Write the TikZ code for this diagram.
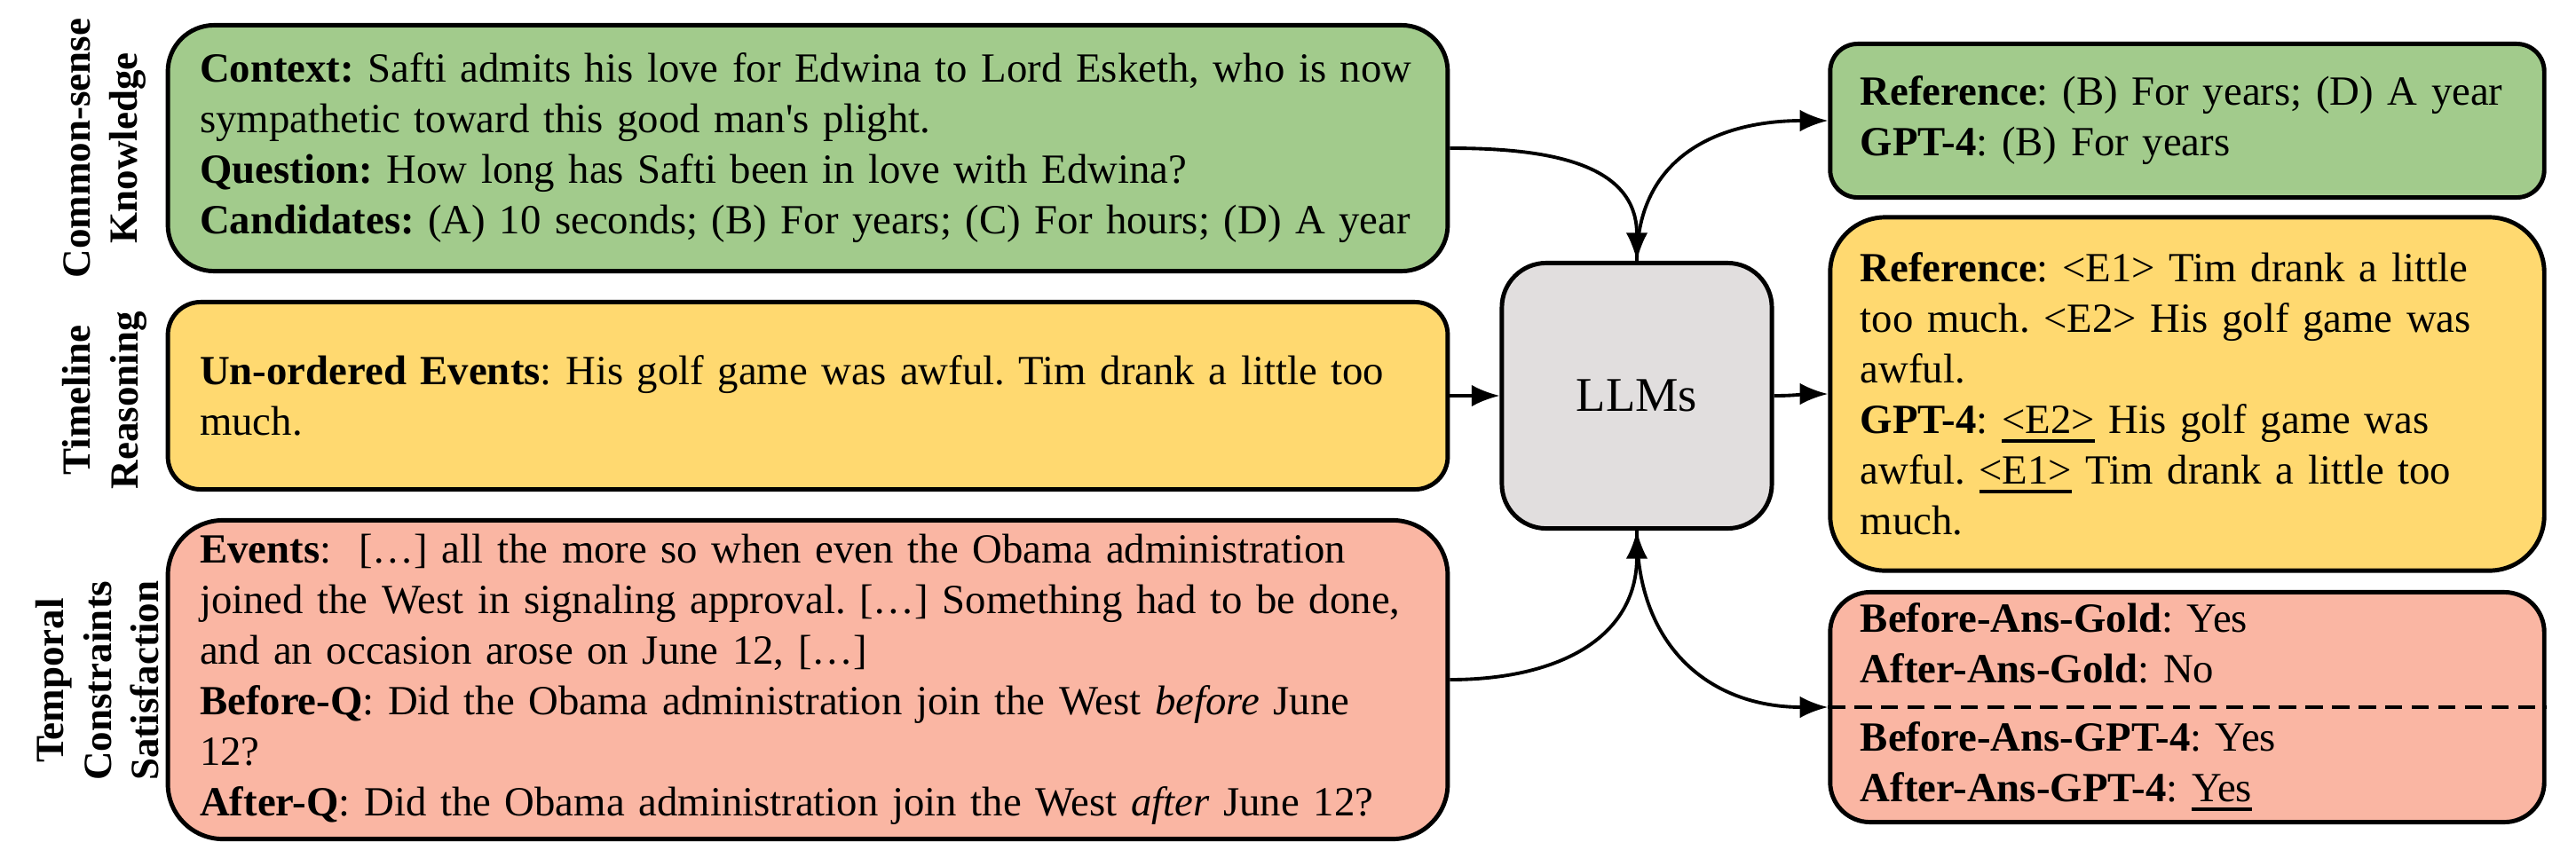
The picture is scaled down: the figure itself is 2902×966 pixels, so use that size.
\documentclass[tikz,border=0pt]{standalone}
\usepackage{fontspec}
\setmainfont{Liberation Serif}
\usetikzlibrary{arrows.meta}
\frenchspacing
\definecolor{csgreen}{HTML}{A2CB8C}
\definecolor{tryellow}{HTML}{FFD970}
\definecolor{tcred}{HTML}{FAB6A3}
\definecolor{llmgrey}{HTML}{E1DEDE}
\tikzset{every picture/.style={line width=1.4pt}}
\tikzset{task box/.style={draw, rounded corners=#1, inner xsep=0.36cm, inner ysep=0pt, text width=13.69cm, align=left, font=\fontsize{13.3}{16.2}\selectfont}}
\tikzset{answer box/.style={draw, rounded corners=#1, inner xsep=0.34cm, inner ysep=0pt, text width=7.36cm, align=left, font=\fontsize{13.3}{16.2}\selectfont}}
\tikzset{task label/.style={rotate=90, align=center, inner sep=0pt, font=\bfseries\fontsize{12.8}{15.2}\selectfont}}
\tikzset{flow/.style={line width=1.1pt, -{Latex[length=9pt,width=7pt]}}}
\newcommand{\sep}{\\[0.2cm]}
\newcommand{\gold}[1]{\setbox0\hbox{#1}\rlap{\rule[-3pt]{\wd0}{1.2pt}}\box0\relax}

\begin{document}
\begin{tikzpicture}[x=0.01cm,y=-0.01cm]
        \useasboundingbox (0,0) rectangle (2902,966);
        \node[task label] (cslabel) at (118,167) {Common-sense\\Knowledge};
        \node[task label] (trlabel) at (118,451) {Timeline\\Reasoning};
        \node[task label] (tclabel) at (110,767) {Temporal\\Constraints\\Satisfaction};
        \node[task box=0.52cm, fill=csgreen, minimum height=2.77cm] (csin) at (910,167) {\textbf{Context:} Safti admits his love for Edwina to Lord Esketh, who is now\\ sympathetic toward this good man\textquotesingle s plight.\\ \textbf{Question:} How long has Safti been in love with Edwina?\\ \textbf{Candidates:} (A) 10 seconds; (B) For years; (C) For hours; (D) A year};
        \node[task box=0.37cm, fill=tryellow, minimum height=2.11cm] (trin) at (910,446) {\textbf{Un-ordered Events}: His golf game was awful. Tim drank a little too\\ much.};
        \node[task box=0.62cm, fill=tcred, minimum height=3.59cm] (tcin) at (910,766) {\textbf{Events}:~ […] all the more so when even the Obama administration\\ joined the West in signaling approval. […] Something had to be done,\\ and an occasion arose on June 12, […]\\ \textbf{Before-Q}: Did the Obama administration join the West \textit{before} June\\ 12?\\ \textbf{After-Q}: Did the Obama administration join the West \textit{after} June 12?};
        \node[draw, rounded corners=0.5cm, fill=llmgrey, minimum width=3.04cm, minimum height=2.99cm, font=\fontsize{15.5}{18}\selectfont] (llm) at (1844,446) {LLMs};
        \node[answer box=0.31cm, fill=csgreen, minimum height=1.73cm] (csout) at (2464,136) {\textbf{Reference}: (B) For years; (D) A year\\ \textbf{GPT-4}: (B) For years};
        \node[answer box=0.62cm, fill=tryellow, minimum height=3.98cm] (trout) at (2464,444) {\textbf{Reference}: <E1> Tim drank a little\\ too much. <E2> His golf game was\\ awful.\\ \textbf{GPT-4}: \gold{<E2>} His golf game was\\ awful. \gold{<E1>} Tim drank a little too\\ much.};
        \node[answer box=0.45cm, fill=tcred, minimum height=2.59cm] (tcout) at (2464,797) {\textbf{Before-Ans-Gold}: Yes\\ \textbf{After-Ans-Gold}: No\sep \textbf{Before-Ans-GPT-4}: Yes\\ \textbf{After-Ans-GPT-4}: \gold{Yes}};
        \draw[dash pattern=on 5.5pt off 3pt] (tcout.west) -- (tcout.east);
        \draw[flow] (csin.east) to[out=0, in=90, looseness=1.15] (llm.north);
        \draw[flow] (llm.north) to[out=90, in=180, looseness=1.15] (csout.west);
        \draw[flow] (trin.east) -- (llm.west);
        \draw[flow] (llm.east) to[out=0, in=180] (trout.west);
        \draw[flow] (tcin.east) to[out=0, in=-90, looseness=1.15] (llm.south);
        \draw[flow] (llm.south) to[out=-90, in=180, looseness=1.15] (tcout.west);
\end{tikzpicture}
\end{document}
